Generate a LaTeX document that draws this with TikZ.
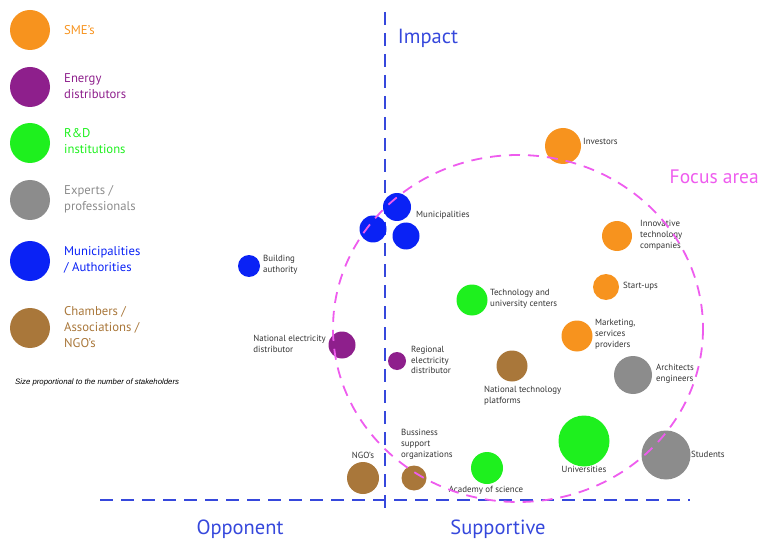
\documentclass[tikz,border=0pt]{standalone}
\usepackage{fontspec}
\setmainfont{PT Sans}
\newfontfamily\notefont{Liberation Sans}
\definecolor{sme}{HTML}{F7931E}
\definecolor{energy}{HTML}{8E1F8C}
\definecolor{rnd}{HTML}{1EF01E}
\definecolor{expert}{HTML}{8C8C8C}
\definecolor{muni}{HTML}{0A22F5}
\definecolor{chamber}{HTML}{A9773A}
\definecolor{axisblue}{HTML}{3648DC}
\definecolor{focuspink}{HTML}{EE5CEE}
\definecolor{labelgray}{HTML}{333333}
\tikzset{
  bub/.style={circle, inner sep=0pt, fill=#1},
  lbl/.style={font=\fontsize{8.9}{10.8}\selectfont, text=labelgray, align=left, inner sep=0pt},
  leg/.style={font=\fontsize{12.7}{16}\selectfont, text=#1, align=left, inner sep=0pt, anchor=west},
  axis/.style={axisblue, line width=2pt, dash pattern=on 13pt off 8pt},
  big/.style={font=\fontsize{20.5}{22}\selectfont, inner sep=0pt}
}
\begin{document}
\begin{tikzpicture}[x=1pt, y=-1pt]
\useasboundingbox (0,0) rectangle (763,540);

% legend
\node[bub=sme, minimum size=40] (lsme) at (30,30){};
\node[leg=sme] (tsme) at (64,30) {SME's};
\node[bub=energy, minimum size=40] (lenergy) at (30,87){};
\node[leg=energy] (tenergy) at (64,86) {Energy\\distributors};
\node[bub=rnd, minimum size=40] (lrnd) at (30,143){};
\node[leg=rnd] (trnd) at (64,141) {R\&D\\institutions};
\node[bub=expert, minimum size=40] (lexpert) at (30,200){};
\node[leg=expert] (texpert) at (64,199) {Experts /\\professionals};
\node[bub=muni, minimum size=40] (lmuni) at (30,261){};
\node[leg=muni] (tmuni) at (64,260) {Municipalities\\/ Authorities};
\node[bub=chamber, minimum size=40] (lchamber) at (30,328){};
\node[leg=chamber] (tchamber) at (64,327) {Chambers /\\Associations /\\NGO's};
\node[anchor=west, inner sep=0pt, font=\notefont\itshape\fontsize{7.8}{9}\selectfont] (note) at (15,382) {Size proportional to the number of stakeholders};

% axes
\coordinate (vtop) at (385,12);
\coordinate (vbot) at (385,513);
\coordinate (hleft) at (100,500);
\coordinate (hright) at (690,500);
\draw[axis] (vtop) -- (vbot);
\draw[axis] (hleft) -- (hright);
\node[big, text=axisblue] (impact) at (428,38) {Impact};
\node[big, text=axisblue] (opp) at (240,529) {Opponent};
\node[big, text=axisblue] (supp) at (498,529) {Supportive};

% stakeholders
\node[bub=muni, minimum size=28] (mun1) at (397,207){};
\node[bub=muni, minimum size=27] (mun2) at (373,229){};
\node[bub=muni, minimum size=27] (mun3) at (406,236){};
\node[lbl, anchor=west] (tmun) at (416,215) {Municipalities};
\node[bub=muni, minimum size=22] (build) at (249,266){};
\node[lbl, anchor=west] (tbuild) at (263,265) {Building\\authority};
\node[bub=energy, minimum size=27] (natel) at (342,345){};
\node[lbl, anchor=east] (tnatel) at (326,344) {National electricity\\distributor};
\node[bub=energy, minimum size=18] (regel) at (397,361){};
\node[lbl, anchor=west] (tregel) at (411,360) {Regional\\electricity\\distributor};
\node[bub=sme, minimum size=36] (inv) at (563,146){};
\node[lbl, anchor=west] (tinv) at (583,141) {Investors};
\node[bub=sme, minimum size=30] (innov) at (617,236){};
\node[lbl, anchor=west] (tinnov) at (640,235) {Innovative\\technology\\companies};
\node[bub=sme, minimum size=26] (startup) at (606,287){};
\node[lbl, anchor=west] (tstartup) at (623,286) {Start-ups};
\node[bub=rnd, minimum size=31] (techc) at (472,300){};
\node[lbl, anchor=west] (ttechc) at (490,299) {Technology and\\university centers};
\node[bub=sme, minimum size=31] (market) at (577,336){};
\node[lbl, anchor=west] (tmarket) at (595,334) {Marketing,\\services\\providers};
\node[bub=chamber, minimum size=31] (ntp) at (512,366){};
\node[lbl, anchor=north west] (tntp) at (484,386) {National technology\\platforms};
\node[bub=expert, minimum size=38] (arch) at (633,375){};
\node[lbl, anchor=west] (tarch) at (656,374) {Architects\\engineers};
\node[bub=rnd, minimum size=51] (uni) at (584,441){};
\node[lbl] (tuni) at (584,469) {Universities};
\node[bub=expert, minimum size=49] (stud) at (666,455){};
\node[lbl, anchor=west] (tstud) at (691,454) {Students};
\node[bub=rnd, minimum size=32] (acad) at (487,468){};
\node[lbl] (tacad) at (486,490) {Academy of science};
\node[bub=chamber, minimum size=25] (buss) at (414,478){};
\node[lbl, anchor=west] (tbuss) at (401,444) {Bussiness\\support\\organizations};
\node[bub=chamber, minimum size=32] (ngo) at (363,478){};
\node[lbl] (tngo) at (363,455) {NGO's};

% focus area
\draw[focuspink, line width=1.8pt, dash pattern=on 11pt off 8pt] (518,328.5) ellipse [x radius=185, y radius=173.5];
\node[big, text=focuspink, anchor=east, font=\fontsize{19.5}{21}\selectfont] (tfocus) at (759,177) {Focus area};
\end{tikzpicture}
\end{document}
